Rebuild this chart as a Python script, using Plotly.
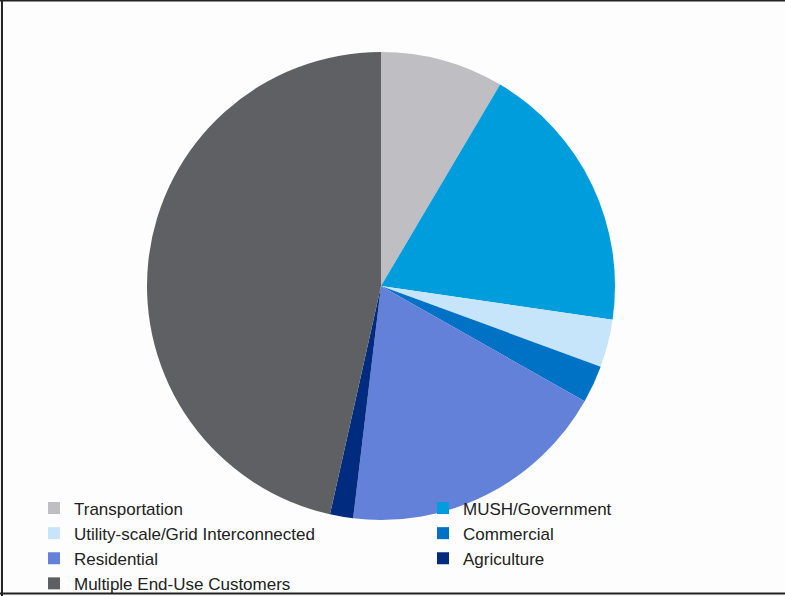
import plotly.graph_objects as go

categories = ["Transportation", "MUSH/Government", "Utility-scale/Grid Interconnected",
              "Commercial", "Residential", "Agriculture", "Multiple End-Use Customers"]
values = [8.5, 18.8, 3.3, 2.6, 18.7, 1.6, 46.5]
colors = ["#bfbfc3", "#009ddc", "#c6e5fa", "#0072c6", "#6381d8", "#002b7f", "#5f6064"]

W, H = 785, 596
fig = go.Figure(go.Pie(
    labels=categories, values=values, sort=False, direction="clockwise", rotation=0,
    marker=dict(colors=colors, line=dict(width=0)),
    textinfo="none", hoverinfo="label+percent",
    domain=dict(x=[147 / W, 615 / W], y=[1 - 520 / H, 1 - 52 / H]),
))

fig.update_layout(
    width=W, height=H, margin=dict(l=0, r=0, t=0, b=0, autoexpand=False),
    paper_bgcolor="#fdfdfd", plot_bgcolor="#fdfdfd",
    showlegend=True,
    legend=dict(orientation="h", xref="container", yref="container",
                x=34 / W, xanchor="left", y=1 - 490.5 / H, yanchor="top",
                entrywidth=344, entrywidthmode="pixels",
                font=dict(family="Liberation Sans, Arial, sans-serif", size=17, color="#222222"),
                bgcolor="rgba(0,0,0,0)", itemclick=False),
    shapes=[
        dict(type="line", xref="paper", yref="paper", x0=0.0025, x1=0.0025, y0=0, y1=1,
             line=dict(color="#222222", width=2)),
        dict(type="line", xref="paper", yref="paper", x0=0, x1=1, y0=0.999, y1=0.999,
             line=dict(color="#222222", width=2)),
        dict(type="line", xref="paper", yref="paper", x0=0, x1=1, y0=1 - 593.5 / H, y1=1 - 593.5 / H,
             line=dict(color="#222222", width=2)),
    ],
)

fig.write_html("out.html")
